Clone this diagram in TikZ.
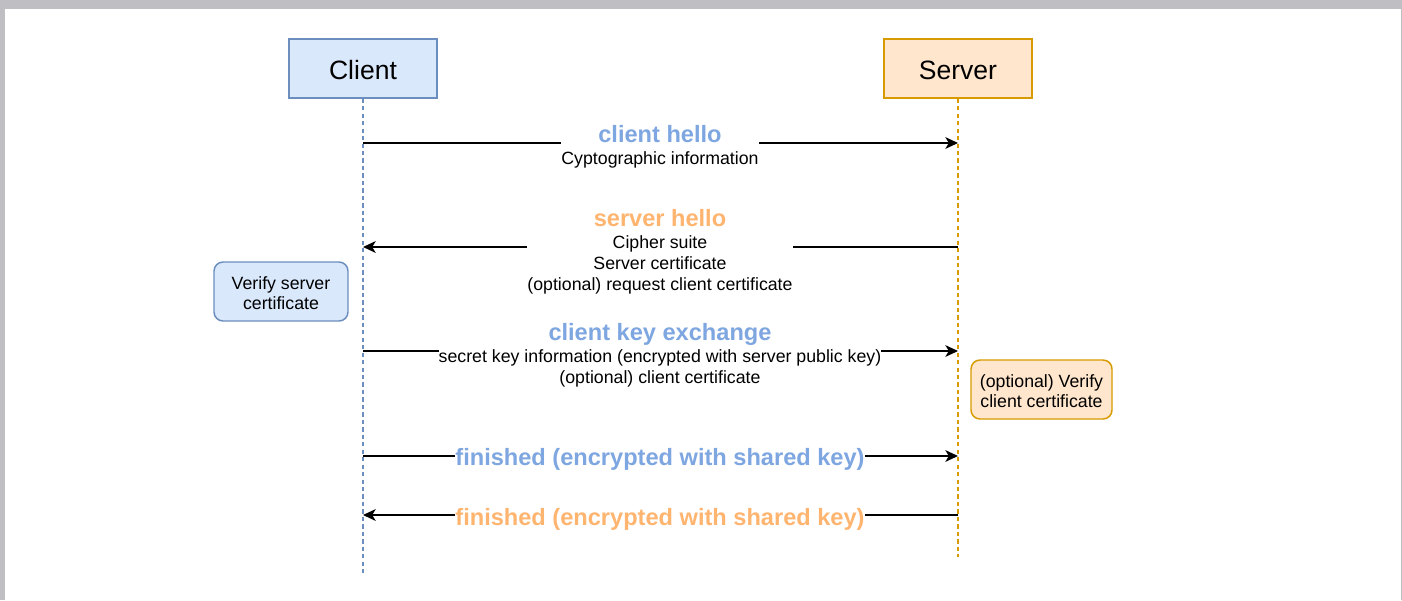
\documentclass[tikz,border=0pt]{standalone}
\usepackage{fontspec}
\setmainfont{Liberation Sans}
\usetikzlibrary{arrows.meta}

\definecolor{bluefill}{HTML}{DAE8FC}
\definecolor{bluestroke}{HTML}{6C8EBF}
\definecolor{orangefill}{HTML}{FFE6CC}
\definecolor{orangestroke}{HTML}{D79B00}
\definecolor{msgblue}{HTML}{7EA6E0}
\definecolor{msgorange}{HTML}{FFB570}
\definecolor{framegray}{HTML}{BEBEC3}

\newcommand{\msgtitle}[2]{{\fontsize{17.7}{15.75}\selectfont\bfseries\color{#1}#2}}
% set a line a little lower inside its box without changing the box size
\newcommand{\lowered}[1]{\raisebox{-1.3pt}[\height][\depth]{#1}}

\begin{document}
\begin{tikzpicture}[x=0.75pt,y=-0.75pt,
  actor/.style={draw, line width=1.1pt, minimum width=111pt, minimum height=44.25pt,
    inner sep=0pt, font=\fontsize{19.9}{24}\selectfont},
  clientbox/.style={actor, fill=bluefill, draw=bluestroke},
  serverbox/.style={actor, fill=orangefill, draw=orangestroke},
  note/.style={draw, line width=1.1pt, rounded corners=6.75pt, minimum height=44.25pt,
    inner sep=0pt, align=center, font=\fontsize{13.3}{15}\selectfont},
  lifeline/.style={line width=1.1pt, dash pattern=on 3.2pt off 2.4pt},
  msg/.style={line width=1.1pt, -{Stealth[length=9.5pt,width=8.8pt,inset=2.6pt]}},
  msglabel/.style={fill=white, inner sep=0pt, align=center, font=\fontsize{13.3}{15.75}\selectfont},
]
% page frame
\fill[framegray] (0,0) rectangle (1402,600);
\fill[white] (5,9) rectangle (1400.5,600);

% participants
\node[clientbox] (client) at (363,68.5) {\lowered{Client}};
\node[serverbox] (server) at (958,68.5) {\lowered{Server}};

% lifeline ends
\coordinate (cEnd) at (363,574);
\coordinate (sEnd) at (958,557);
\draw[lifeline, bluestroke] (client.south) -- (cEnd);
\draw[lifeline, orangestroke] (server.south) -- (sEnd);

% message anchor points on the lifelines
\coordinate (c1) at (363,143);   \coordinate (s1) at (958,143);
\coordinate (c2) at (363,247);   \coordinate (s2) at (958,247);
\coordinate (c3) at (363,351);   \coordinate (s3) at (958,351);
\coordinate (c4) at (363,456);   \coordinate (s4) at (958,456);
\coordinate (c5) at (363,515);   \coordinate (s5) at (958,515);

% messages
\draw[msg] (c1) -- (s1);
\draw[msg] (s2) -- (c2);
\draw[msg] (c3) -- (s3);
\draw[msg] (c4) -- (s4);
\draw[msg] (s5) -- (c5);

\node[msglabel] (m1) at (660,147.25)
  {\msgtitle{msgblue}{client hello}\\[0.75pt] Cyptographic information};
\node[msglabel] (m2) at (660,252.25)
  {\msgtitle{msgorange}{server hello}\\[0.75pt] Cipher suite\\ Server certificate\\ (optional) request client certificate};
\node[msglabel] (m3) at (660,355.5)
  {\msgtitle{msgblue}{client key exchange}\\[1.1pt] secret key information (encrypted with server public key)\\ (optional) client certificate};
\node[msglabel] (m4) at (660,458.9)
  {\msgtitle{msgblue}{finished (encrypted with shared key)}};
\node[msglabel] (m5) at (660,519.1)
  {\msgtitle{msgorange}{finished (encrypted with shared key)}};

% side notes
\node[note, fill=bluefill, draw=bluestroke, minimum width=100.5pt] (verifyServer) at (281,291.5)
  {\lowered{Verify server}\\\lowered{certificate}};
\node[note, fill=orangefill, draw=orangestroke, minimum width=105.75pt] (verifyClient) at (1041.5,389.5)
  {\lowered{(optional) Verify}\\\lowered{client certificate}};
\end{tikzpicture}
\end{document}
